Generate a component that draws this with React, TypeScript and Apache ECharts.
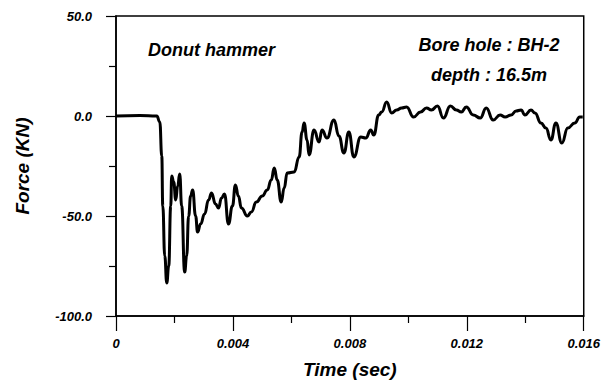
import React, { useEffect, useRef } from "react";
import * as echarts from "echarts";

const timeSec: number[] = [
  0, 0.000817, 0.001396, 0.001498, 0.001566, 0.0016, 0.001668, 0.001736, 0.001804, 0.001872,
  0.001906, 0.001974, 0.002043, 0.002111, 0.002179, 0.002247, 0.002349, 0.002417, 0.002485, 0.002553,
  0.002621, 0.002723, 0.002791, 0.002894, 0.00303, 0.003166, 0.003268, 0.003404, 0.003506, 0.003609,
  0.003711, 0.003847, 0.003983, 0.004085, 0.004187, 0.004289, 0.004494, 0.00463, 0.0048, 0.005004,
  0.005174, 0.005311, 0.005413, 0.005515, 0.005651, 0.005753, 0.005855, 0.006094, 0.006264, 0.006366,
  0.006434, 0.006536, 0.006604, 0.006774, 0.006945, 0.007047, 0.007217, 0.007455, 0.007626, 0.007796,
  0.007966, 0.008136, 0.008374, 0.008545, 0.008715, 0.008817, 0.008987, 0.009089, 0.00926, 0.00943,
  0.0096, 0.00977, 0.00994, 0.010179, 0.010417, 0.010621, 0.010791, 0.010996, 0.0112, 0.011438,
  0.011643, 0.011813, 0.011983, 0.012221, 0.01246, 0.012664, 0.012902, 0.01314, 0.013311, 0.013515,
  0.013685, 0.013855, 0.013991, 0.014196, 0.014332, 0.014536, 0.014706, 0.014877, 0.015047, 0.015251,
  0.015455, 0.015694, 0.015864, 0.015966,
];

const forceKN: number[] = [
  0, 0.3, 0, -3, -20, -45, -70, -83.5, -75, -45,
  -30, -33, -42, -35, -29, -45, -78, -70, -50, -40,
  -37, -50, -58, -54, -49, -42, -38.5, -44, -46, -41,
  -39, -54, -45, -34.5, -40, -46, -50, -48, -43, -40,
  -37, -32, -26, -32, -43, -36, -28.5, -28, -20.5, -8,
  -3.5, -12, -19.5, -7, -13, -7, -11, -2, -10, -18.5,
  -8, -20.5, -10.5, -11, -7, -9.5, 0.5, 2, 7, 1.5,
  3, 4, 4.5, -0.5, 2, 4, 3, 5, -1, 5,
  3, 2, 4.5, 0.5, -1, 4, -2, 0.5, -0.5, 0.5,
  2.5, 3, 0.5, 3, 1.5, -3.5, -6, -12, -3.5, -13.5,
  -6, -3.5, -0.5, -0.5,
];

const xTicks = { min: 0, max: 0.016, interval: 0.004 };
const yTicks = { min: -100, max: 50, interval: 50 };

const titleX = "Time (sec)";
const titleY = "Force (KN)";
const noteLeft = "Donut hammer";
const noteRight1 = "Bore hole : BH-2";
const noteRight2 = "depth : 16.5m";

const FONT = '"Liberation Sans", Arial, Helvetica, sans-serif';

export default function App() {
  const ref = useRef<HTMLDivElement>(null);

  useEffect(() => {
    if (!ref.current) return;
    const chart = echarts.init(ref.current, undefined, { renderer: "svg" });
    const data = timeSec.map((t, i) => [t, forceKN[i]]);
    const textBase = {
      fontFamily: FONT,
      fontWeight: "bold" as const,
      fontStyle: "italic" as const,
      color: "#000",
    };
    chart.setOption({
      animation: false,
      backgroundColor: "#fff",
      grid: {
        left: 116,
        right: 18,
        top: 16,
        bottom: 72,
        show: true,
        borderColor: "#000",
        borderWidth: 1.5,
        backgroundColor: "transparent",
      },
      xAxis: {
        type: "value",
        min: xTicks.min,
        max: xTicks.max,
        interval: xTicks.interval,
        name: titleX,
        nameLocation: "middle",
        nameGap: 44,
        nameTextStyle: { ...textBase, fontSize: 19 },
        axisLine: { show: true, onZero: false, lineStyle: { color: "#000", width: 1.5 } },
        axisTick: { show: true, length: 15, lineStyle: { color: "#000", width: 1.2 } },
        minorTick: { show: true, splitNumber: 2, length: 7, lineStyle: { color: "#000", width: 1.2 } },
        splitLine: { show: false },
        minorSplitLine: { show: false },
        axisLabel: {
          ...textBase,
          fontSize: 13,
          margin: 21,
          formatter: (v: number) => (v === 0 ? "0" : v.toFixed(3)),
        },
      },
      yAxis: {
        type: "value",
        min: yTicks.min,
        max: yTicks.max,
        interval: yTicks.interval,
        name: titleY,
        nameLocation: "middle",
        nameGap: 84,
        nameTextStyle: { ...textBase, fontSize: 19 },
        axisLine: { show: true, onZero: false, lineStyle: { color: "#000", width: 1.5 } },
        axisTick: { show: true, length: 10, lineStyle: { color: "#000", width: 1.2 } },
        minorTick: { show: true, splitNumber: 2, length: 7, lineStyle: { color: "#000", width: 1.2 } },
        splitLine: { show: false },
        minorSplitLine: { show: false },
        axisLabel: {
          ...textBase,
          fontSize: 13,
          margin: 24,
          formatter: (v: number) => v.toFixed(1),
        },
      },
      graphic: [
        {
          type: "text",
          left: 148,
          top: 41,
          style: { text: noteLeft, font: `italic bold 18px ${FONT}`, fill: "#000" },
        },
        {
          type: "text",
          x: 489,
          y: 45,
          style: {
            text: noteRight1,
            font: `italic bold 18px ${FONT}`,
            fill: "#000",
            textAlign: "center",
            textVerticalAlign: "middle",
          },
        },
        {
          type: "text",
          x: 489,
          y: 75,
          style: {
            text: noteRight2,
            font: `italic bold 18px ${FONT}`,
            fill: "#000",
            textAlign: "center",
            textVerticalAlign: "middle",
          },
        },
      ],
      series: [
        {
          type: "line",
          data,
          showSymbol: false,
          smooth: 0.5,
          smoothMonotone: "x",
          lineStyle: { color: "#000", width: 3 },
          clip: true,
        },
      ],
    });
    return () => chart.dispose();
  }, []);

  return (
    <div
      ref={ref}
      style={{ position: "fixed", left: 0, top: 0, width: 603, height: 388, background: "#fff" }}
    />
  );
}
